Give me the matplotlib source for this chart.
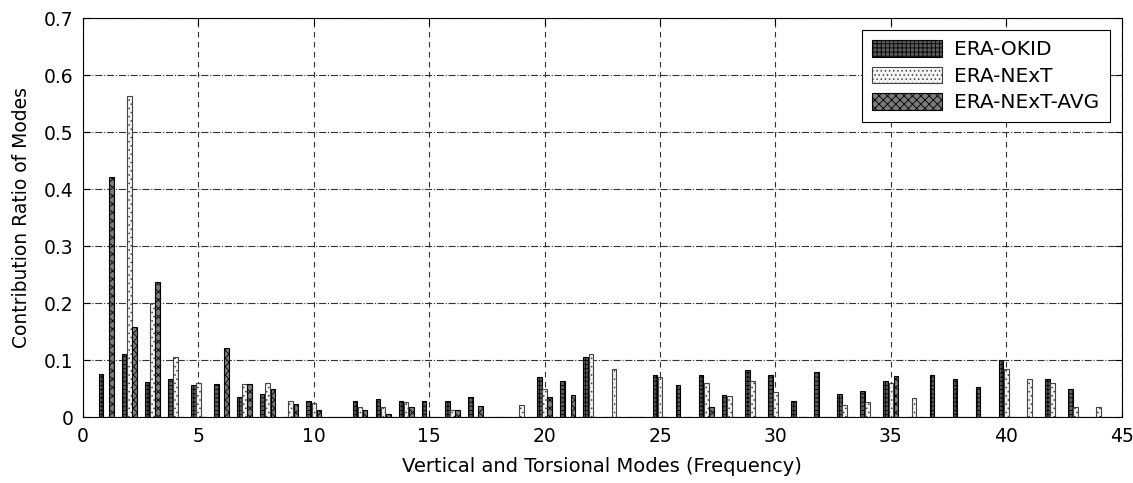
import numpy as np
import matplotlib.pyplot as plt

plt.rcParams['font.family'] = ['DejaVu Sans']
plt.rcParams['hatch.linewidth'] = 0.6

modes = np.arange(1, 45)
era_okid = [0.076, 0.111, 0.062, 0.068, 0.056, 0.059, 0.035, 0.040, 0.0, 0.029,
            0.0, 0.029, 0.032, 0.029, 0.029, 0.029, 0.035, 0.0, 0.0, 0.071,
            0.063, 0.106, 0.0, 0.0, 0.074, 0.057, 0.074, 0.039, 0.083, 0.074,
            0.029, 0.080, 0.041, 0.047, 0.064, 0.0, 0.074, 0.067, 0.053, 0.101,
            0.0, 0.067, 0.049, 0.0]
era_next = [0.0, 0.564, 0.200, 0.105, 0.061, 0.0, 0.058, 0.061, 0.029, 0.025,
            0.0, 0.018, 0.018, 0.026, 0.0, 0.013, 0.0, 0.0, 0.022, 0.049,
            0.0, 0.111, 0.084, 0.0, 0.070, 0.0, 0.061, 0.038, 0.063, 0.045,
            0.0, 0.0, 0.022, 0.026, 0.061, 0.034, 0.0, 0.0, 0.0, 0.084,
            0.067, 0.061, 0.018, 0.018]
era_next_avg = [0.421, 0.158, 0.237, 0.0, 0.0, 0.122, 0.058, 0.049, 0.023, 0.013,
                0.0, 0.013, 0.006, 0.018, 0.0, 0.013, 0.020, 0.0, 0.0, 0.035,
                0.039, 0.0, 0.0, 0.0, 0.0, 0.0, 0.018, 0.0, 0.0, 0.0,
                0.0, 0.0, 0.0, 0.0, 0.073, 0.0, 0.0, 0.0, 0.0, 0.0,
                0.0, 0.0, 0.0, 0.0]
labels = ["ERA-OKID", "ERA-NExT", "ERA-NExT-AVG"]

fig = plt.figure(figsize=(11.33, 4.83), dpi=100)
ax = fig.add_axes([0.0733, 0.136, 0.9167, 0.8267])

off = 0.222
w = 0.2
styles = [dict(color="#5a5a5a", hatch="++++", edgecolor="black"),
          dict(color="#f4f4f4", hatch="....", edgecolor="#444444"),
          dict(color="#7a7a7a", hatch="xxxx", edgecolor="black")]
for i, (vals, lab) in enumerate(zip([era_okid, era_next, era_next_avg], labels)):
    st = styles[i]
    ax.bar(modes + (i - 1) * off, vals, w, facecolor=st["color"],
           hatch=st["hatch"], edgecolor=st["edgecolor"], linewidth=0.8,
           label=lab, zorder=3)

ax.set_xlim(0, 45)
ax.set_ylim(0, 0.7)
ax.set_xticks(np.arange(0, 46, 5))
ax.set_yticks(np.arange(0, 0.71, 0.1))
ax.set_yticklabels(["0", "0.1", "0.2", "0.3", "0.4", "0.5", "0.6", "0.7"])
ax.tick_params(direction="in", top=True, right=True, labelsize=13.5, length=5, pad=7)
ax.xaxis.grid(True, linestyle="--", color="#333333", linewidth=0.8, dashes=(5, 4))
ax.yaxis.grid(True, linestyle="-.", color="#333333", linewidth=0.8)
ax.set_axisbelow(True)
for s in ax.spines.values():
    s.set_linewidth(0.8)

ax.set_xlabel("Vertical and Torsional Modes (Frequency)", fontsize=14, labelpad=8)
ax.set_ylabel("Contribution Ratio of Modes", fontsize=13.5, labelpad=9)

leg = ax.legend(loc="upper right", fontsize=14.5, handlelength=3.5, handleheight=0.9,
                handletextpad=0.6, fancybox=False, framealpha=1, edgecolor="black",
                borderaxespad=0.6, labelspacing=0.35, borderpad=0.5)
leg.get_frame().set_linewidth(0.8)

fig.savefig("out.png", dpi=100)
